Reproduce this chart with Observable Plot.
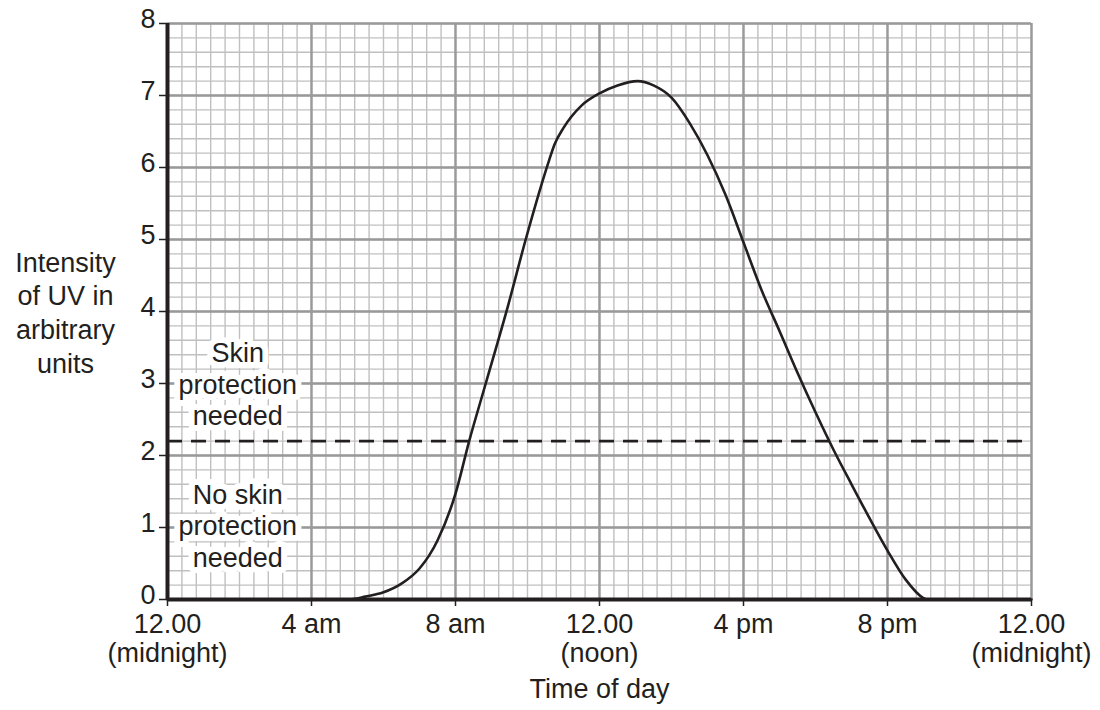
<!DOCTYPE html>
<html>
<head>
<meta charset="utf-8">
<script src="https://cdn.jsdelivr.net/npm/d3@7"></script>
<script src="https://cdn.jsdelivr.net/npm/@observablehq/plot@0.6"></script>
<style>
  html, body { margin: 0; padding: 0; background: white; }
  #chart svg { display: block; }
</style>
</head>
<body>
<div id="chart"></div>
<script>
// Time of day in hours (0 = midnight) and UV intensity (arbitrary units)
const hours = [0, 5.0, 5.5, 6.0, 6.5, 7.0, 7.5, 8.0, 8.38, 8.84, 9.47, 9.95, 10.6,
  10.75, 11.0, 11.5, 12.0, 12.5, 13.06, 13.5, 14.0, 14.5, 15.0, 15.5, 16.0, 16.5,
  17.0, 17.5, 18.0, 18.5, 19.0, 19.5, 20.0, 20.5, 21.0, 21.1, 24];
const uv = [0, 0, 0.04, 0.1, 0.22, 0.43, 0.82, 1.47, 2.2, 3.0, 4.1, 5.0, 6.1,
  6.32, 6.55, 6.86, 7.03, 7.14, 7.2, 7.14, 6.97, 6.62, 6.17, 5.62, 4.96, 4.3,
  3.73, 3.15, 2.6, 2.08, 1.6, 1.13, 0.68, 0.28, 0.02, 0, 0];

const xTicks = [0, 4, 8, 12, 16, 20, 24];
const xTickLabels = ["12.00\n(midnight)", "4 am", "8 am", "12.00\n(noon)", "4 pm", "8 pm", "12.00\n(midnight)"];
const yTicks = [0, 1, 2, 3, 4, 5, 6, 7, 8];
const minorXStep = 0.4;
const minorYStep = 0.2;
const threshold = 2.2;

const zoneLabels = ["Skin\nprotection\nneeded", "No skin\nprotection\nneeded"];
const zoneLabelX = [1.95, 1.95];
const zoneLabelY = [3.0, 1.03];

const yLabel = "Intensity\nof UV in\narbitrary\nunits";
const xLabel = "Time of day";

const data = hours.map((h, i) => ({h, v: uv[i]}));
const zones = zoneLabels.map((t, i) => ({t, x: zoneLabelX[i], y: zoneLabelY[i]}));
const minorX = d3.range(0, 24 + 1e-9, minorXStep);
const minorY = d3.range(0, 8 + 1e-9, minorYStep);
const tickLabelMap = new Map(xTicks.map((d, i) => [d, xTickLabels[i]]));

const ink = "#231f20";
const fs = 27;

const chart = Plot.plot({
  width: 1100,
  height: 710,
  marginLeft: 167,
  marginRight: 69,
  marginTop: 23,
  marginBottom: 111,
  x: {domain: [0, 24]},
  y: {domain: [0, 8]},
  style: {fontFamily: "'Liberation Sans', Arial, Helvetica, sans-serif", fontSize: fs + "px", color: ink, background: "white"},
  marks: [
    Plot.gridX(minorX, {stroke: "#c0c0c0", strokeOpacity: 1, strokeWidth: 1.4}),
    Plot.gridY(minorY, {stroke: "#c0c0c0", strokeOpacity: 1, strokeWidth: 1.4}),
    Plot.gridX(xTicks, {stroke: "#999999", strokeOpacity: 1, strokeWidth: 2.4}),
    Plot.gridY(yTicks, {stroke: "#999999", strokeOpacity: 1, strokeWidth: 2.4}),
    Plot.ruleY([threshold], {stroke: ink, strokeWidth: 2.6, strokeDasharray: "15,9"}),
    Plot.text(zones, {x: "x", y: "y", text: "t", fill: ink, stroke: "white", strokeWidth: 12, paintOrder: "stroke", lineHeight: 1.16, fontSize: fs}),
    Plot.line(data, {x: "h", y: "v", curve: "monotone-x", stroke: ink, strokeWidth: 2.6}),
    Plot.axisX(xTicks, {
      tickFormat: d => tickLabelMap.get(d),
      tickSize: 7, tickPadding: 6, stroke: ink, strokeWidth: 1.5, fill: ink,
      fontSize: fs, lineHeight: 1.08,
      label: xLabel, labelAnchor: "center", labelArrow: "none", labelOffset: 98
    }),
    Plot.axisY(yTicks, {tickFormat: () => "", tickSize: 8, stroke: ink, strokeWidth: 1.5, label: null}),
    Plot.axisY(yTicks, {tickFormat: "d", tickSize: 0, tickPadding: 12, dy: -4, fill: ink, fontSize: fs, label: null}),
    Plot.ruleX([0], {stroke: ink, strokeWidth: 4}),
    Plot.ruleY([0], {stroke: ink, strokeWidth: 4}),
    Plot.text([yLabel], {frameAnchor: "left", dx: -102, text: d => d, textAnchor: "middle", fill: ink, lineHeight: 1.25, fontSize: fs})
  ]
});

document.getElementById("chart").append(chart);
</script>
</body>
</html>
